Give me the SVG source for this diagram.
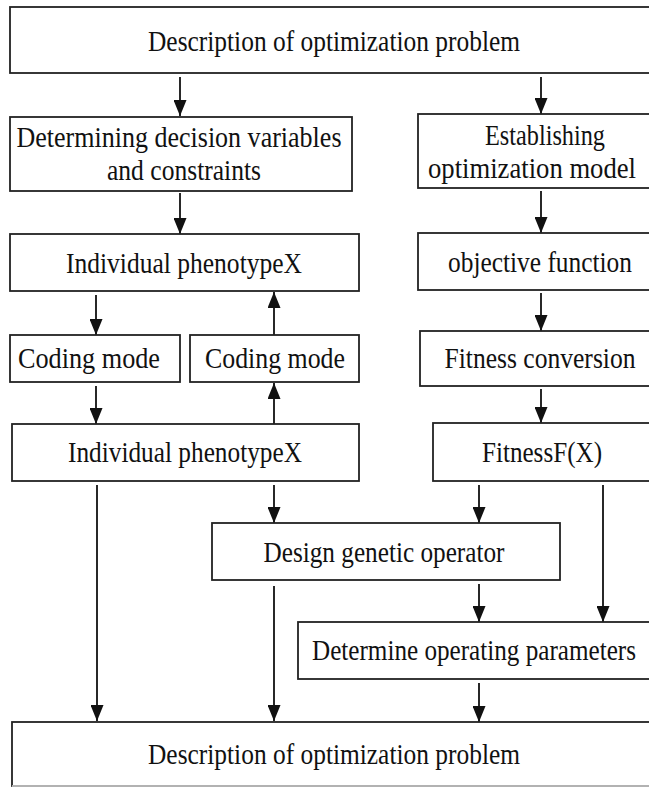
<svg xmlns="http://www.w3.org/2000/svg" width="649" height="787" viewBox="0 0 649 787">
<defs>
<marker id="ah" markerWidth="16" markerHeight="13" refX="16" refY="6.5" orient="auto" markerUnits="userSpaceOnUse" viewBox="0 0 16 13">
<path d="M0,0 L16,6.5 L0,13 Z" fill="#111"/>
</marker>
<style>
.box{fill:#fff;stroke:#222;stroke-width:1.8}
.t{font-family:"Liberation Serif","Times New Roman",serif;font-size:29px;fill:#111;text-anchor:middle}
.c{fill:none;stroke:#111;stroke-width:1.8}
</style>
</defs>
<rect width="649" height="787" fill="#fff"/>
<g id="connectors">
<line class="c" x1="180" y1="77" x2="180" y2="116" marker-end="url(#ah)"/>
<line class="c" x1="541" y1="77" x2="541" y2="114" marker-end="url(#ah)"/>
<line class="c" x1="180" y1="193" x2="180" y2="234" marker-end="url(#ah)"/>
<line class="c" x1="541" y1="191" x2="541" y2="233" marker-end="url(#ah)"/>
<line class="c" x1="96" y1="295" x2="96" y2="335" marker-end="url(#ah)"/>
<line class="c" x1="274" y1="335" x2="274" y2="292" marker-end="url(#ah)"/>
<line class="c" x1="541" y1="293" x2="541" y2="331" marker-end="url(#ah)"/>
<line class="c" x1="96" y1="386" x2="96" y2="424" marker-end="url(#ah)"/>
<line class="c" x1="274" y1="424" x2="274" y2="383" marker-end="url(#ah)"/>
<line class="c" x1="541" y1="389" x2="541" y2="423" marker-end="url(#ah)"/>
<line class="c" x1="97" y1="485" x2="97" y2="721" marker-end="url(#ah)"/>
<line class="c" x1="274" y1="485" x2="274" y2="523" marker-end="url(#ah)"/>
<line class="c" x1="479" y1="485" x2="479" y2="523" marker-end="url(#ah)"/>
<line class="c" x1="603" y1="485" x2="603" y2="622" marker-end="url(#ah)"/>
<line class="c" x1="274" y1="586" x2="274" y2="721" marker-end="url(#ah)"/>
<line class="c" x1="479" y1="584" x2="479" y2="622" marker-end="url(#ah)"/>
<line class="c" x1="479" y1="683" x2="479" y2="722" marker-end="url(#ah)"/>
</g>
<g id="n1"><rect class="box" x="10" y="7" width="660" height="66"/>
<text class="t" x="334" y="51" textLength="372" lengthAdjust="spacingAndGlyphs">Description of optimization problem</text></g>
<g id="n2"><rect class="box" x="10" y="117" width="342" height="74"/>
<text class="t" x="179" y="147" textLength="325" lengthAdjust="spacingAndGlyphs">Determining decision variables</text>
<text class="t" x="184" y="180" textLength="154" lengthAdjust="spacingAndGlyphs">and constraints</text></g>
<g id="n3"><rect class="box" x="418" y="114" width="250" height="74"/>
<text class="t" x="545" y="145" textLength="120" lengthAdjust="spacingAndGlyphs">Establishing</text>
<text class="t" x="532" y="178" textLength="208" lengthAdjust="spacingAndGlyphs">optimization model</text></g>
<g id="n4"><rect class="box" x="10" y="234" width="349" height="57"/>
<text class="t" x="184" y="273" textLength="236" lengthAdjust="spacingAndGlyphs">Individual phenotypeX</text></g>
<g id="n5"><rect class="box" x="418" y="233" width="250" height="57"/>
<text class="t" x="540" y="272" textLength="184" lengthAdjust="spacingAndGlyphs">objective function</text></g>
<g id="n6"><rect class="box" x="10" y="335" width="170" height="47"/>
<text class="t" x="89" y="368" textLength="142" lengthAdjust="spacingAndGlyphs">Coding mode</text></g>
<g id="n7"><rect class="box" x="190" y="335" width="169" height="47"/>
<text class="t" x="275" y="368" textLength="140" lengthAdjust="spacingAndGlyphs">Coding mode</text></g>
<g id="n8"><rect class="box" x="420" y="331" width="250" height="55"/>
<text class="t" x="540" y="368" textLength="191" lengthAdjust="spacingAndGlyphs">Fitness conversion</text></g>
<g id="n9"><rect class="box" x="12" y="424" width="347" height="57"/>
<text class="t" x="185" y="462" textLength="234" lengthAdjust="spacingAndGlyphs">Individual phenotypeX</text></g>
<g id="n10"><rect class="box" x="433" y="423" width="240" height="58"/>
<text class="t" x="542" y="462" textLength="120" lengthAdjust="spacingAndGlyphs">FitnessF(X)</text></g>
<g id="n11"><rect class="box" x="212" y="523" width="348" height="57"/>
<text class="t" x="384" y="562" textLength="241" lengthAdjust="spacingAndGlyphs">Design genetic operator</text></g>
<g id="n12"><rect class="box" x="298" y="622" width="370" height="57"/>
<text class="t" x="474" y="660" textLength="324" lengthAdjust="spacingAndGlyphs">Determine operating parameters</text></g>
<g id="n13"><rect class="box" x="12" y="722" width="660" height="64"/>
<line x1="12" y1="786" x2="649" y2="786" stroke="#ddd" stroke-width="1.5"/>
<text class="t" x="334" y="764" textLength="372" lengthAdjust="spacingAndGlyphs">Description of optimization problem</text></g>
</svg>
